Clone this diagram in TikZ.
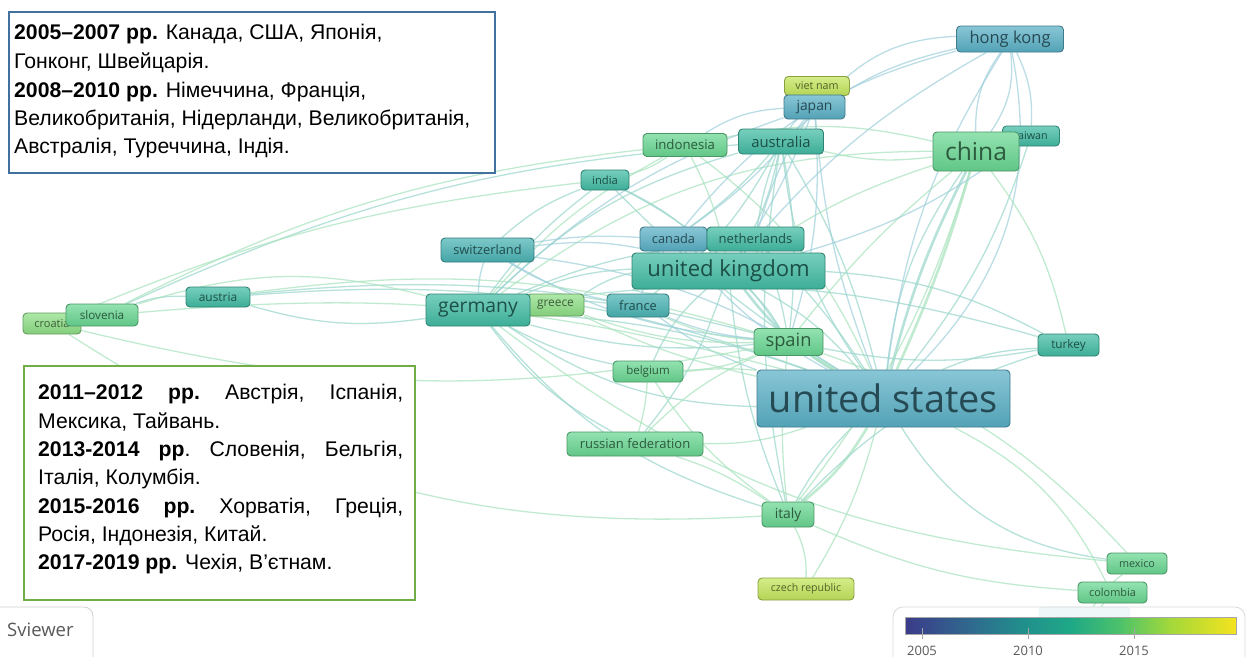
\documentclass[tikz,border=0pt]{standalone}
\usepackage{fontspec}
\setmainfont{Liberation Sans}
\newfontfamily\osf{Open Sans}
\definecolor{cB}{HTML}{5AB0C6}
\definecolor{cT}{HTML}{42BCA4}
\definecolor{cS}{HTML}{4AB3B4}
\definecolor{cG}{HTML}{69D792}
\definecolor{cL}{HTML}{8EDF86}
\definecolor{cY}{HTML}{C4E65C}
\definecolor{eT}{HTML}{98D6CB}
\definecolor{eG}{HTML}{A8E3BD}
\definecolor{eB}{HTML}{9ECFDC}
\definecolor{boxblue}{HTML}{41719C}
\definecolor{boxgreen}{HTML}{70AD47}
\definecolor{vA}{HTML}{3B3B8A}
\definecolor{vB}{HTML}{2F6A8E}
\definecolor{vC}{HTML}{218E8C}
\definecolor{vD}{HTML}{1FA887}
\definecolor{vE}{HTML}{4DC26A}
\definecolor{vF}{HTML}{A2D83A}
\definecolor{vG}{HTML}{F5E31E}
\pgfdeclarehorizontalshading{viridis}{100bp}{color(0bp)=(vA); color(25bp)=(vA); color(35bp)=(vB); color(42.5bp)=(vC); color(50bp)=(vD); color(57.5bp)=(vE); color(65bp)=(vF); color(75bp)=(vG); color(100bp)=(vG)}
\pgfdeclarelayer{bg}
\pgfsetlayers{bg,main}
\newcommand\nfs[1]{\osf\fontsize{#1}{#1}\selectfont}
\newcommand\bfs{\fontsize{21.2}{28}\selectfont}
\tikzset{
  cn/.style={rounded corners=4pt, draw=#1!70!black, top color=#1!72!white, bottom color=#1!92!black, text=#1!42!black, line width=0.9pt, inner sep=0pt},
  et/.style={draw=eT, line width=1.3pt, opacity=0.7},
  eg/.style={draw=eG, line width=1.3pt, opacity=0.7},
  eb/.style={draw=eB, line width=1.3pt, opacity=0.7},
  ew/.style={line width=2.6pt},
  tl/.style={anchor=base west, inner sep=0pt, font=\bfs},
  lab/.style={anchor=base, inner sep=0pt, text=black!65, font=\nfs{13}},
}
\begin{document}
\begin{tikzpicture}[x=1pt,y=-1pt]
\useasboundingbox (0,0) rectangle (1249,656);
\clip (0,0) rectangle (1249,656);
\begin{pgfonlayer}{bg}
\fill[white] (0,0) rectangle (1249,656);
\end{pgfonlayer}

% ---------- nodes ----------
\path
 node[cn=cB, minimum width=107pt, minimum height=26pt, font=\nfs{16.5}] (hk) at (1010,39) {hong kong}
 node[cn=cT, minimum width=57pt, minimum height=20pt, font=\nfs{10.7}] (tw) at (1031,136) {taiwan}
 node[cn=cG, minimum width=86pt, minimum height=39pt, font=\nfs{24.6}] (cn) at (976,151.5) {china}
 node[cn=cY, minimum width=65pt, minimum height=19pt, font=\nfs{10.7}] (vn) at (817,86) {viet nam}
 node[cn=cB, minimum width=61pt, minimum height=24pt, font=\nfs{13.9}] (jp) at (814.5,107) {japan}
 node[cn=cT, minimum width=85pt, minimum height=25pt, font=\nfs{14.8}] (au) at (781,141.5) {australia}
 node[cn=cG, minimum width=84pt, minimum height=23pt, font=\nfs{13.2}] (id) at (685,145) {indonesia}
 node[cn=cT, minimum width=48pt, minimum height=20pt, font=\nfs{11.2}] (in) at (605,180) {india}
 node[cn=cS, minimum width=93pt, minimum height=24pt, font=\nfs{12.8}] (sw) at (487.5,250) {switzerland}
 node[cn=cB, minimum width=67pt, minimum height=24pt, font=\nfs{12.8}] (ca) at (673.5,239) {canada}
 node[cn=cT, minimum width=97pt, minimum height=24pt, font=\nfs{13.1}] (nl) at (755.5,239) {netherlands}
 node[cn=cT, minimum width=193pt, minimum height=36pt, font=\nfs{22.1}] (uk) at (728.5,271) {united kingdom}
 node[cn=cL, minimum width=57pt, minimum height=22pt, font=\nfs{11.9}] (gr) at (555.5,305) {greece}
 node[cn=cT, minimum width=104pt, minimum height=32pt, font=\nfs{19.3}] (de) at (478,310) {germany}
 node[cn=cS, minimum width=62pt, minimum height=23pt, font=\nfs{12.8}] (fr) at (638,305.5) {france}
 node[cn=cT, minimum width=64pt, minimum height=20pt, font=\nfs{11.9}] (at) at (218,297) {austria}
 node[cn=cL, minimum width=58pt, minimum height=21pt, font=\nfs{11}] (hr) at (52,323.5) {croatia}
 node[cn=cG, minimum width=72pt, minimum height=22pt, font=\nfs{11.7}] (sl) at (102,315) {slovenia}
 node[cn=cG, minimum width=69pt, minimum height=27pt, font=\nfs{18.3}] (es) at (788.5,342) {spain}
 node[cn=cT, minimum width=61pt, minimum height=22pt, font=\nfs{11.8}] (tr) at (1068.5,345) {turkey}
 node[cn=cG, minimum width=70pt, minimum height=21pt, font=\nfs{11.5}] (be) at (648,371.5) {belgium}
 node[cn=cB, minimum width=253pt, minimum height=57pt, font=\nfs{37.9}] (us) at (883.5,398.5) {united states}
 node[cn=cG, minimum width=136pt, minimum height=24pt, font=\nfs{13}] (ru) at (635,444) {russian federation}
 node[cn=cG, minimum width=52pt, minimum height=25pt, font=\nfs{13.8}] (it) at (788,514.5) {italy}
 node[cn=cY, minimum width=96pt, minimum height=22pt, font=\nfs{10.6}] (cz) at (806,589) {czech republic}
 node[cn=cG, minimum width=60pt, minimum height=21pt, font=\nfs{10.8}] (mx) at (1137,563.5) {mexico}
 node[cn=cG, minimum width=69pt, minimum height=21pt, font=\nfs{10.9}] (co) at (1112.5,592.5) {colombia}
 node[rounded corners=4pt, draw=eB!70, fill=eB!35, minimum width=91pt, minimum height=26pt] (hid) at (1084.5,620) {};

% ---------- edges (background layer) ----------
\begin{pgfonlayer}{bg}
% united states hub
\draw[et,ew] (us) to[bend left=6] (cn);
\draw[eg,ew] (us) to[bend right=4] (cn);
\draw[et] (us) to[bend left=14] (cn);
\draw[eb] (us) to[bend right=28] (hk);
\draw[eb] (us) to[bend left=12] (hk);
\draw[eb] (us) to[bend left=8] (jp);
\draw[et] (us) to[bend left=14] (au);
\draw[et] (us) to[bend right=8] (au);
\draw[et,ew] (us) to[bend left=10] (uk);
\draw[et] (us) to[bend right=10] (uk);
\draw[et] (us) to[bend left=16] (de);
\draw[et] (us) to[bend right=8] (de);
\draw[eg,ew] (us) to (es);
\draw[eg,ew] (us) to[bend left=10] (it);
\draw[et] (us) to[bend right=8] (it);
\draw[et] (us) to[bend left=10] (tr);
\draw[et] (us) to[bend right=25] (mx);
\draw[eg] (us) to[bend left=18] (co);
\draw[eb] (us) to[bend left=10] (ca);
\draw[et] (us) to[bend right=6] (nl);
\draw[eb] (us) to[bend left=8] (fr);
\draw[eb] (us) to[bend right=12] (sw);
\draw[eg] (us) to[bend left=6] (gr);
\draw[eg] (us) to[bend right=14] (id);
\draw[et] (us) to[bend left=6] (in);
\draw[et] (us) to[bend right=10] (tw);
\draw[eg] (us) to[bend left=10] (ru);
\draw[eg] (us) to[bend right=6] (be);
\draw[et] (us) to[bend right=12] (at);
\draw[eg] (us) to[bend left=8] (cz);
\draw[eg] (us) to[bend right=10] (sl);
% china
\draw[eg] (cn) to[bend right=8] (uk);
\draw[eg] (cn) to[bend right=18] (de);
\draw[eg] (cn) to[bend left=10] (au);
\draw[eb] (cn) to[bend right=20] (hk);
\draw[eb] (cn) to[bend left=18] (hk);
\draw[et] (cn) to (tw);
\draw[eg] (cn) to[bend left=12] (tr);
\draw[eg] (cn) to[bend right=6] (es);
\draw[eg] (cn) to[bend left=10] (it);
\draw[eg] (cn) to[bend right=12] (id);
% hong kong
\draw[eb] (hk) to[bend right=22] (jp);
\draw[eb] (hk) to[bend right=14] (au);
\draw[eb] (hk) to[bend right=10] (uk);
\draw[eb] (hk) to[bend right=18] (ca);
\draw[eb] (hk) to[bend left=14] (tw);
% japan
\draw[eb] (jp) to[bend right=10] (au);
\draw[eb] (jp) to[bend left=6] (uk);
\draw[eb] (jp) to[bend right=12] (de);
\draw[eb] (jp) to[bend left=8] (ca);
\draw[eb] (jp) to[bend right=8] (nl);
\draw[eb] (jp) to[bend left=10] (es);
\draw[eb] (jp) to[bend right=14] (id);
% australia
\draw[et] (au) to[bend left=10] (uk);
\draw[et] (au) to[bend right=14] (de);
\draw[et] (au) to[bend left=6] (ca);
\draw[et] (au) to[bend right=6] (nl);
\draw[et] (au) to[bend left=8] (es);
\draw[et] (au) to[bend right=10] (it);
\draw[et] (au) to[bend left=12] (fr);
\draw[et] (au) to[bend right=10] (sl);
\draw[eg] (id) to[bend left=8] (uk);
\draw[eg] (id) to[bend right=10] (de);
\draw[eg] (id) to[bend left=10] (in);
\draw[et] (in) to[bend right=8] (de);
\draw[et] (in) to[bend left=10] (uk);
\draw[et] (in) to[bend right=10] (sw);
\draw[et] (in) to[bend left=14] (es);
% switzerland
\draw[eb] (sw) to[bend left=10] (uk);
\draw[eb] (sw) to[bend right=8] (de);
\draw[eb] (sw) to[bend right=10] (fr);
\draw[eb] (sw) to[bend left=6] (ca);
\draw[eb] (sw) to[bend right=12] (es);
% germany
\draw[et] (de) to[bend left=10] (uk);
\draw[et] (de) to[bend left=6] (fr);
\draw[et] (de) to[bend right=10] (es);
\draw[et] (de) to[bend right=16] (it);
\draw[et] (de) to (gr);
\draw[et] (de) to[bend left=12] (at);
\draw[et] (de) to[bend right=8] (be);
\draw[et] (de) to[bend right=12] (ru);
\draw[et] (de) to[bend left=8] (nl);
\draw[et] (de) to[bend left=12] (tr);
% united kingdom
\draw[et] (uk) to[bend left=8] (es);
\draw[et] (uk) to[bend right=8] (it);
\draw[et] (uk) to[bend right=10] (fr);
\draw[et] (uk) to (nl);
\draw[et] (uk) to (ca);
\draw[et] (uk) to[bend right=12] (be);
\draw[et] (uk) to[bend left=10] (ru);
\draw[et] (uk) to[bend left=12] (tr);
\draw[et] (uk) to[bend right=10] (gr);
% spain, italy, others
\draw[eg] (es) to[bend right=6] (it);
\draw[eg] (es) to[bend left=10] (be);
\draw[eg] (es) to[bend right=10] (ru);
\draw[eg] (es) to[bend left=10] (fr);
\draw[eg] (es) to[bend left=14] (mx);
\draw[eg] (es) to[bend right=12] (at);
\draw[et] (at) to[bend right=10] (sl);
\draw[et] (at) to[bend left=10] (es);
\draw[eg] (sl) to (hr);
\draw[eg] (sl) to[bend left=16] (de);
\draw[eg] (sl) to[bend left=10] (id);
\draw[eg] (hr) to[bend right=18] (it);
\draw[eg] (hr) to[bend right=12] (es);
\draw[eg] (hr) to[bend left=8] (in);
\draw[eg] (it) to[bend left=14] (cz);
\draw[eg] (it) to[bend right=8] (ru);
\draw[eg] (ru) to[bend right=6] (be);
\draw[eg] (be) to[bend right=10] (it);
\draw[et] (tr) to[bend right=14] (it);
\draw[et] (tr) to[bend left=10] (es);
\draw[eg] (mx) to[bend right=10] (hid);
\draw[eg] (co) to[bend left=6] (hid);
\draw[eg] (co) to[bend left=10] (it);
\draw[eg] (mx) to[bend left=16] (de);
\draw[eg] (gr) to[bend right=10] (es);
\draw[eb] (ca) to[bend right=10] (fr);
\draw[et] (nl) to[bend left=8] (es);
\draw[eb] (fr) to[bend right=8] (es);
\draw[eb] (tw) to[bend left=10] (uk);
\end{pgfonlayer}

% ---------- text boxes ----------
\node[draw=boxblue, line width=1.6pt, fill=white, anchor=north west, minimum width=486pt, minimum height=161pt, inner sep=0pt] (box1) at (8,11) {};
\node[tl] (t11) at (14,39) {\textbf{2005–2007 рр.} Канада, США, Японія,};
\node[tl] (t12) at (14,68) {Гонконг, Швейцарія.};
\node[tl] (t13) at (14,97) {\textbf{2008–2010 рр.} Німеччина, Франція,};
\node[tl] (t14) at (14,125) {Великобританія, Нідерланди, Великобританія,};
\node[tl] (t15) at (14,153) {Австралія, Туреччина, Індія.};

\node[draw=boxgreen, line width=2pt, fill=white, anchor=north west, minimum width=391pt, minimum height=234pt, inner sep=0pt] (box2) at (23,365) {};
\node[tl] (t21) at (38,399) {\hbox to 365pt{\textbf{2011–2012}\hfill\textbf{рр.}\hfill Австрія,\hfill Іспанія,}};
\node[tl] (t22) at (38,428) {Мексика, Тайвань.};
\node[tl] (t23) at (38,456) {\hbox to 365pt{\textbf{2013-2014}\hfill\textbf{рр}.\hfill Словенія,\hfill Бельгія,}};
\node[tl] (t24) at (38,484) {Італія, Колумбія.};
\node[tl] (t25) at (38,513) {\hbox to 365pt{\textbf{2015-2016}\hfill\textbf{рр.}\hfill Хорватія,\hfill Греція,}};
\node[tl] (t26) at (38,541) {Росія, Індонезія, Китай.};
\node[tl] (t27) at (38,569) {\textbf{2017-2019 рр.} Чехія, В’єтнам.};

% ---------- VOSviewer button ----------
\draw[draw=black!18, line width=0.8pt, fill=white, rounded corners=9pt] (-20,607) rectangle (93,690);
\node[anchor=base west, inner sep=0pt, text=black!65, font=\nfs{18.5}] (sv) at (7,636) {Sviewer};

% ---------- colour bar ----------
\draw[draw=black!15, line width=0.8pt, fill=white, fill opacity=0.55, rounded corners=10pt] (893,607) rectangle (1245,690);
\shade[shading=viridis, draw=black!35, line width=0.5pt] (905,617) rectangle (1236,634);
\foreach \tx in {922,1028,1134} \draw[black!35, line width=0.8pt] (\tx,628) -- (\tx,639);
\node[lab] (y05) at (922,655) {2005};
\node[lab] (y10) at (1028,655) {2010};
\node[lab] (y15) at (1134,655) {2015};
\end{tikzpicture}
\end{document}
